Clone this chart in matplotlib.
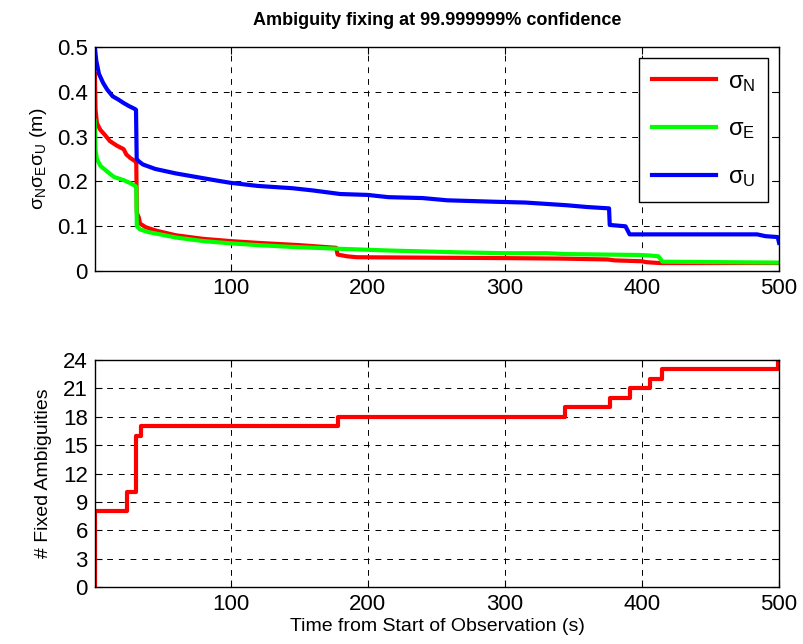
import matplotlib
matplotlib.use("Agg")
import matplotlib.pyplot as plt

plt.rcParams['font.family'] = ['Liberation Sans', 'DejaVu Sans']
plt.rcParams['mathtext.fontset'] = 'custom'
plt.rcParams['mathtext.rm'] = 'Liberation Sans'
plt.rcParams['mathtext.it'] = 'Liberation Sans'
plt.rcParams['mathtext.bf'] = 'Liberation Sans:bold'

# sigma N (red)
t_n = [1, 1.5, 2.5, 5, 8, 12, 17, 22, 24, 27, 30.5, 31.2, 31.6, 33, 34, 38, 46, 60, 80,
       100, 120, 150, 177, 178, 185, 192, 300, 340, 375, 380, 400, 403, 413, 500]
sig_n = [0.44, 0.36, 0.33, 0.315, 0.305, 0.29, 0.28, 0.272, 0.26, 0.252, 0.245, 0.24, 0.13,
         0.12, 0.106, 0.098, 0.09, 0.08, 0.072, 0.067, 0.063, 0.058, 0.052, 0.037, 0.033,
         0.031, 0.029, 0.028, 0.026, 0.024, 0.022, 0.02, 0.018, 0.018]

# sigma E (green)
t_e = [1, 1.5, 2.5, 5, 10, 15, 22, 27, 30.5, 31.2, 31.6, 34, 40, 47, 60, 80, 100, 120,
       145, 178, 215, 265, 300, 330, 345, 398, 405, 412, 415, 500]
sig_e = [0.335, 0.27, 0.25, 0.235, 0.222, 0.21, 0.203, 0.196, 0.19, 0.188, 0.10, 0.093,
         0.087, 0.083, 0.075, 0.067, 0.062, 0.058, 0.054, 0.05, 0.046, 0.042, 0.04, 0.04,
         0.038, 0.036, 0.035, 0.033, 0.021, 0.019]

# sigma U (blue)
t_u = [1, 2, 4, 7, 10, 14, 18, 22, 26, 30, 31, 31.5, 33, 36, 45, 60, 75, 90, 100, 120,
       145, 160, 180, 200, 215, 240, 258, 290, 315, 330, 345, 360, 376, 376.5, 388, 391,
       484, 490, 499, 500]
sig_u = [0.50, 0.47, 0.44, 0.42, 0.405, 0.39, 0.383, 0.375, 0.368, 0.362, 0.36, 0.25,
         0.245, 0.238, 0.228, 0.218, 0.21, 0.202, 0.197, 0.19, 0.185, 0.18, 0.172, 0.17,
         0.165, 0.163, 0.158, 0.155, 0.153, 0.15, 0.147, 0.143, 0.14, 0.103, 0.10, 0.082,
         0.082, 0.078, 0.076, 0.063]

# number of fixed ambiguities
t_fix = [1, 1, 24.7, 30.7, 34.4, 178.6, 344, 377, 391.5, 406, 414.5, 499.5, 500]
n_fix = [0, 8, 10, 16, 17, 18, 19, 20, 21, 22, 23, 24, 24]

fig = plt.figure(figsize=(8.04, 6.44), dpi=100)
ax1 = fig.add_axes([0.118, 0.579, 0.851, 0.348])
ax2 = fig.add_axes([0.118, 0.0885, 0.851, 0.3525])

grid_kw = dict(color='k', linestyle=(0, (6, 6)), linewidth=0.7)

ax1.plot(t_n, sig_n, color='red', lw=3, label=r'σ$_\mathrm{N}$')
ax1.plot(t_e, sig_e, color='#00ff00', lw=3, label=r'σ$_\mathrm{E}$')
ax1.plot(t_u, sig_u, color='blue', lw=3, label=r'σ$_\mathrm{U}$')
ax1.set_xlim(1, 500)
ax1.set_ylim(0, 0.5)
ax1.set_xticks([100, 200, 300, 400, 500])
ax1.set_yticks([0, 0.1, 0.2, 0.3, 0.4, 0.5])
ax1.set_yticklabels(['0', '0.1', '0.2', '0.3', '0.4', '0.5'])
ax1.grid(True, **grid_kw)
ax1.set_ylabel(r'σ$_\mathrm{N}$σ$_\mathrm{E}$σ$_\mathrm{U}$ (m)', fontsize=14, labelpad=6)
ax1.set_title('Ambiguity fixing at 99.999999% confidence', fontsize=13,
              fontweight='bold', pad=16)
leg = ax1.legend(loc='upper right', fontsize=17, handlelength=2.7, labelspacing=1.05,
                 borderpad=0.55, handletextpad=0.5, fancybox=False, edgecolor='k',
                 framealpha=1, borderaxespad=0.45)
leg.get_frame().set_linewidth(1.0)

ax2.plot(t_fix, n_fix, color='red', lw=3, drawstyle='steps-post')
ax2.set_xlim(1, 500)
ax2.set_ylim(0, 24)
ax2.set_xticks([100, 200, 300, 400, 500])
ax2.set_yticks(range(0, 25, 3))
ax2.grid(True, **grid_kw)
ax2.set_ylabel('# Fixed Ambiguities', fontsize=14, labelpad=8)
ax2.set_xlabel('Time from Start of Observation (s)', fontsize=14, labelpad=2)

for ax in (ax1, ax2):
    ax.tick_params(direction='in', top=True, right=True, labelsize=16, length=5, width=0.8,
                   pad=5)
    for s in ax.spines.values():
        s.set_linewidth(1.0)

fig.savefig('out.png', dpi=100)
